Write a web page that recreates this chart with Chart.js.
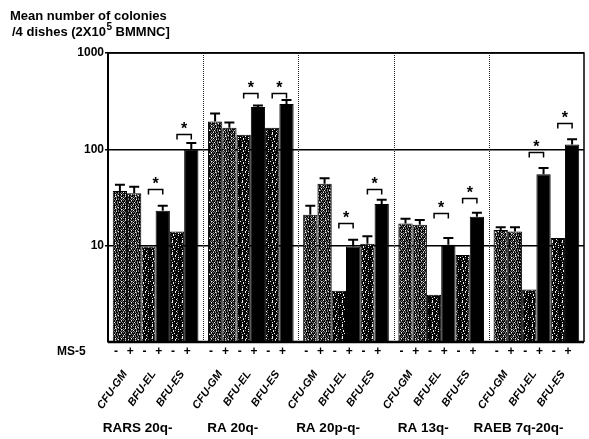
<!DOCTYPE html>
<html>
<head>
<meta charset="utf-8">
<script src="https://cdn.jsdelivr.net/npm/chart.js@4"></script>
<style>
html, body { margin:0; padding:0; background:#fff; }
#wrap { width:589px; height:439px; }
</style>
</head>
<body>
<div id="wrap"><canvas id="chart" width="589" height="439"></canvas></div>
<script>
//======================================================================================================
// Data
//======================================================================================================
var groups      = ['RARS 20q-', 'RA 20q-', 'RA 20p-q-', 'RA 13q-', 'RAEB 7q-20q-'];
var colonyTypes = ['CFU-GM', 'BFU-EL', 'BFU-ES'];
var ms5Signs    = ['-', '+', '-', '+', '-', '+'];
var yTicks      = [10, 100, 1000];

// mean number of colonies, one array per bar position in a group
var cfuGmMinus = [37, 195, 21, 17, 14.5];
var cfuGmPlus  = [35, 168, 44, 16.5, 14];
var bfuElMinus = [9.8, 142, 3.4, 3.1, 3.5];
var bfuElPlus  = [23, 275, 9.8, 10.2, 55];
var bfuEsMinus = [14, 168, 10.5, 8, 12];
var bfuEsPlus  = [100, 295, 27, 20, 112];

// upper end of the error bars (null = no bar visible)
var cfuGmMinusErr = [43, 235, 26, 19, 15.5];
var cfuGmPlusErr  = [41, 190, 50, 18.5, 15.5];
var bfuElMinusErr = [null, null, null, null, null];
var bfuElPlusErr  = [26, 285, 11.5, 12, 64];
var bfuEsMinusErr = [null, null, 12.5, null, null];
var bfuEsPlusErr  = [116, 325, 30, 22, 127];

// height of the "*" brackets (BFU-EL pair, BFU-ES pair)
var sigEl = [39, 385, 17, 22, 94];
var sigEs = [144, 385, 39, 31, 188];

//======================================================================================================
// Fill textures for the stippled bars
//======================================================================================================
function makePattern(rows, colors)
{
	var c = document.createElement('canvas');
	c.width = rows[0].length;
	c.height = rows.length;
	var g = c.getContext('2d');
	for (var y = 0; y < rows.length; y++)
		for (var x = 0; x < rows[y].length; x++)
		{
			g.fillStyle = colors[rows[y][x]];
			g.fillRect(x, y, 1, 1);
		}
	return g.createPattern(c, 'repeat');
}

var texColors = { '#': '#050505', 'g': '#7a7a7a', '.': '#f4f4f4' };
var cfuFill = makePattern([
	"#g#.#g##g#",
	"g#g###g#g#",
	"#.#g#.#g##",
	"#g###g#g.#",
	"g##g#.g#g#",
	"#.g#g#g###",
	"#g#.##g#g#",
	"g#g#g#.#g#",
	"#.#g#g####",
	"#g###g#g#g",
	"g#g#.##g#.",
	"###g#g#g##"
], texColors);
var minusFill = makePattern([
	"##.####g##",
	"##.#######",
	"#g.###.###",
	"#####.##g#",
	"##g##.####",
	".#######.#",
	"###.#g####",
	"###.####.#",
	"#g########",
	"####.#####",
	"##.####g##",
	"######.###"
], texColors);

var FONT = '"Liberation Sans", Arial, sans-serif';
var errors = [cfuGmMinusErr, cfuGmPlusErr, bfuElMinusErr, bfuElPlusErr, bfuEsMinusErr, bfuEsPlusErr];

//======================================================================================================
// Extra drawing: frame, separators, error bars, significance marks and the labels under the axis
//======================================================================================================
var decorPlugin = {
	id: 'decor',
	afterDatasetsDraw: function(chart) {
		var ctx = chart.ctx, area = chart.chartArea;
		var xs = chart.scales.x, ys = chart.scales.y;
		ctx.save();

		// dotted separators between the patients
		ctx.strokeStyle = '#222';
		ctx.lineWidth = 1;
		ctx.setLineDash([1, 1]);
		for (var i = 0; i < groups.length - 1; i++)
		{
			var sx = Math.round((xs.getPixelForTick(i) + xs.getPixelForTick(i + 1)) / 2) + 0.5;
			ctx.beginPath();
			ctx.moveTo(sx, area.top);
			ctx.lineTo(sx, area.bottom);
			ctx.stroke();
		}
		ctx.setLineDash([]);

		// frame
		ctx.strokeStyle = '#000';
		ctx.lineWidth = 1.5;
		ctx.beginPath();
		ctx.moveTo(area.left, area.top);
		ctx.lineTo(area.right, area.top);
		ctx.lineTo(area.right, area.bottom);
		ctx.stroke();
		ctx.lineWidth = 2.5;
		ctx.beginPath();
		ctx.moveTo(area.left, area.bottom);
		ctx.lineTo(area.right, area.bottom);
		ctx.stroke();

		// error bars
		ctx.lineWidth = 2;
		errors.forEach(function(errs, d) {
			var bars = chart.getDatasetMeta(d).data;
			errs.forEach(function(e, i) {
				if (e === null) return;
				var b = bars[i], yt = ys.getPixelForValue(e);
				var hw = b.width * 0.35;
				ctx.beginPath();
				ctx.moveTo(b.x, b.y);
				ctx.lineTo(b.x, yt);
				ctx.moveTo(b.x - hw, yt);
				ctx.lineTo(b.x + hw, yt);
				ctx.stroke();
			});
		});

		// brackets with "*"
		ctx.lineWidth = 1.5;
		ctx.fillStyle = '#000';
		ctx.font = 'bold 16px ' + FONT;
		ctx.textAlign = 'center';
		ctx.textBaseline = 'alphabetic';
		function bracket(d, i, val)
		{
			var x1 = chart.getDatasetMeta(d).data[i].x;
			var x2 = chart.getDatasetMeta(d + 1).data[i].x;
			var y = Math.round(ys.getPixelForValue(val)) + 0.5;
			ctx.beginPath();
			ctx.moveTo(x1, y + 5);
			ctx.lineTo(x1, y);
			ctx.lineTo(x2, y);
			ctx.lineTo(x2, y + 5);
			ctx.stroke();
			ctx.fillText('*', (x1 + x2) / 2, y - 1);
		}
		for (var i = 0; i < groups.length; i++)
		{
			bracket(2, i, sigEl[i]);
			bracket(4, i, sigEs[i]);
		}

		// MS-5 row
		ctx.font = 'bold 12px ' + FONT;
		ctx.textBaseline = 'middle';
		ctx.textAlign = 'left';
		ctx.fillText('MS-5', 57, 352);
		ctx.textAlign = 'center';
		for (var i = 0; i < groups.length; i++)
			for (var d = 0; d < 6; d++)
				ctx.fillText(ms5Signs[d], chart.getDatasetMeta(d).data[i].x - 4, 352);

		// colony types, slanted
		ctx.font = 'italic bold 11px ' + FONT;
		ctx.textAlign = 'right';
		for (var i = 0; i < groups.length; i++)
			for (var k = 0; k < colonyTypes.length; k++)
			{
				var cx = (chart.getDatasetMeta(2 * k).data[i].x + chart.getDatasetMeta(2 * k + 1).data[i].x) / 2;
				ctx.save();
				ctx.translate(cx - 2, 372);
				ctx.rotate(-55 * Math.PI / 180);
				ctx.fillText(colonyTypes[k], 0, 0);
				ctx.restore();
			}

		// patient groups
		ctx.font = 'bold 13.5px ' + FONT;
		ctx.textAlign = 'center';
		for (var i = 0; i < groups.length; i++)
			ctx.fillText(groups[i], xs.getPixelForTick(i) - 18, 428);

		// y axis title
		ctx.textAlign = 'left';
		ctx.textBaseline = 'alphabetic';
		ctx.font = 'bold 13px ' + FONT;
		ctx.fillText('Mean number of colonies', 10, 20);
		var t1 = '/4 dishes (2X10';
		ctx.fillText(t1, 12, 36);
		var w1 = ctx.measureText(t1).width;
		ctx.font = 'bold 10px ' + FONT;
		ctx.fillText('5', 12 + w1 + 0.5, 30);
		var w2 = ctx.measureText('5').width;
		ctx.font = 'bold 13px ' + FONT;
		ctx.fillText(' BMMNC]', 12 + w1 + w2 + 0.5, 36);

		ctx.restore();
	}
};

//======================================================================================================
// Chart
//======================================================================================================
function barSet(label, values, fill)
{
	return {
		label:           label,
		data:            values,
		backgroundColor: fill,
		borderColor:     '#000',
		borderWidth:     1,
		categoryPercentage: 0.9,
		barPercentage:   1.0
	};
}

var chart = new Chart(document.getElementById('chart'), {
	type: 'bar',
	data: {
		labels: groups,
		datasets: [
			barSet('CFU-GM -', cfuGmMinus, cfuFill),
			barSet('CFU-GM +', cfuGmPlus, cfuFill),
			barSet('BFU-EL -', bfuElMinus, minusFill),
			barSet('BFU-EL +', bfuElPlus, '#000'),
			barSet('BFU-ES -', bfuEsMinus, minusFill),
			barSet('BFU-ES +', bfuEsPlus, '#000')
		]
	},
	options: {
		responsive: false,
		animation: false,
		layout: { padding: { top: 53, bottom: 97, left: 0, right: 5 } },
		plugins: {
			legend:  { display: false },
			tooltip: { enabled: false }
		},
		scales: {
			x: { display: false },
			y: {
				type: 'logarithmic',
				min: 1,
				max: 1000,
				afterBuildTicks: function(s) { s.ticks = yTicks.map(function(v) { return { value: v }; }); },
				afterFit: function(s) { s.width = 108; },
				ticks: {
					color: '#000',
					padding: 1,
					font: { family: FONT, size: 12, weight: 'bold' },
					callback: function(v) { return String(v); }
				},
				grid: { color: '#000', lineWidth: 1.5, tickLength: 3 },
				border: { display: true, color: '#000', width: 2 }
			}
		}
	},
	plugins: [decorPlugin]
});
</script>
</body>
</html>
